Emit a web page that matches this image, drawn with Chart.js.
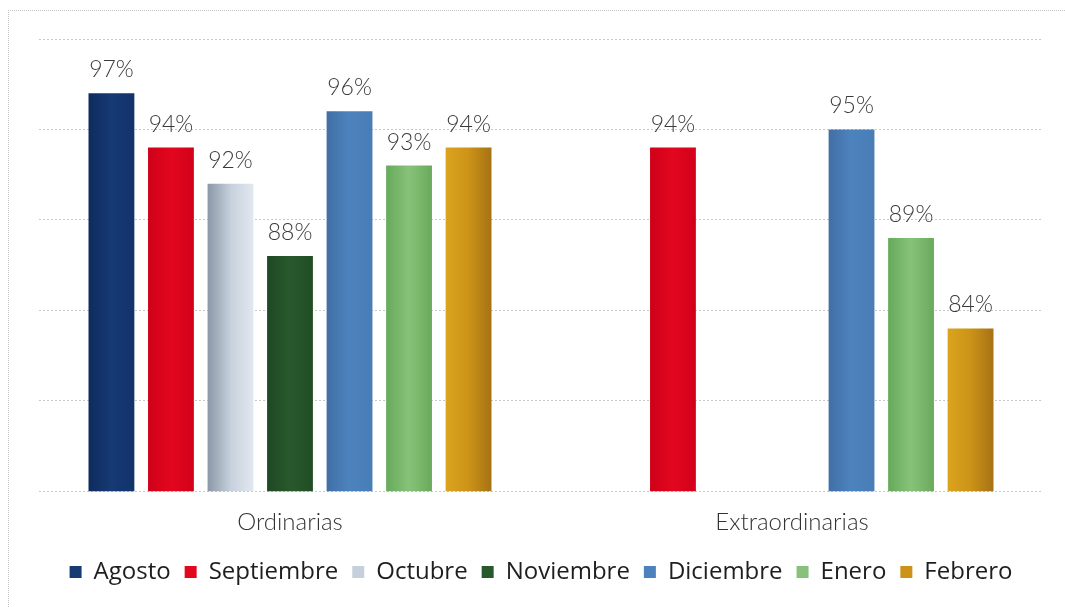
<!DOCTYPE html>
<html>
<head>
<meta charset="utf-8">
<script src="https://cdn.jsdelivr.net/npm/chart.js@4.4.1/dist/chart.umd.min.js"></script>
<style>
  html, body { margin: 0; padding: 0; background: #fff; }
  #wrap { position: relative; width: 1065px; height: 607px; background: #fff; overflow: hidden; }
  #frame { position: absolute; left: 8px; top: 10px; width: 1100px; height: 700px;
           border-top: 1px dotted #c4c4c4; border-left: 1px dotted #c4c4c4; }
  #c { position: absolute; left: 0; top: 0; }
</style>
</head>
<body>
<div id="wrap">
  <div id="frame"></div>
  <canvas id="c" width="1065" height="607"></canvas>
</div>
<script>
// categories and series (percent)
const categories = ['Ordinarias', 'Extraordinarias'];
const months = ['Agosto', 'Septiembre', 'Octubre', 'Noviembre', 'Diciembre', 'Enero', 'Febrero'];

const agosto     = [97, null];
const septiembre = [94, 94];
const octubre    = [92, null];
const noviembre  = [88, null];
const diciembre  = [96, 95];
const enero      = [93, 89];
const febrero    = [94, 84];

const yMin = 75, yMax = 100, yStep = 5;

// left / mid / right shades for each month
const shades = [
  ['#0f2b5e', '#163a74', '#12326a'],
  ['#cf0019', '#e2071f', '#d3001a'],
  ['#8b97a7', '#c6d0dc', '#e2e8f0'],
  ['#1f4823', '#28592c', '#224d26'],
  ['#416fa6', '#4d83bd', '#487db6'],
  ['#66aa5a', '#88c27a', '#6aaa5c'],
  ['#dba41d', '#cc9318', '#a67214']
];

const allSeries = [agosto, septiembre, octubre, noviembre, diciembre, enero, febrero];

const datasets = months.map((m, i) => ({
  label: m,
  data: allSeries[i],
  backgroundColor: shades[i][1],
  borderWidth: 0,
  barPercentage: 0.77,
  categoryPercentage: 0.83
}));

// horizontal shading on every bar, using the bar's own geometry
const barShade = {
  id: 'barShade',
  beforeDatasetsDraw(chart) {
    const ctx = chart.ctx;
    chart.data.datasets.forEach((ds, i) => {
      const meta = chart.getDatasetMeta(i);
      meta.data.forEach(el => {
        if (!isFinite(el.x) || !isFinite(el.width)) return;
        const g = ctx.createLinearGradient(el.x - el.width / 2, 0, el.x + el.width / 2, 0);
        g.addColorStop(0, shades[i][0]);
        g.addColorStop(0.5, shades[i][1]);
        g.addColorStop(1, shades[i][2]);
        el.options = Object.assign({}, el.options, { backgroundColor: g });
      });
    });
  }
};

// value labels above bars
const valueLabels = {
  id: 'valueLabels',
  afterDatasetsDraw(chart) {
    const ctx = chart.ctx;
    ctx.save();
    ctx.font = '300 23px Lato, "Open Sans", sans-serif';
    ctx.fillStyle = '#3a3a3a';
    ctx.textAlign = 'center';
    ctx.textBaseline = 'alphabetic';
    chart.data.datasets.forEach((ds, i) => {
      const meta = chart.getDatasetMeta(i);
      meta.data.forEach((el, j) => {
        const v = ds.data[j];
        if (v == null) return;
        ctx.fillText(v + '%', el.x, el.y - 16);
      });
    });
    ctx.restore();
  }
};

new Chart(document.getElementById('c'), {
  type: 'bar',
  data: { labels: categories, datasets: datasets },
  options: {
    responsive: false,
    animation: false,
    devicePixelRatio: 1,
    layout: { padding: { top: 39, left: 39, right: 22, bottom: 13 } },
    plugins: {
      tooltip: { enabled: false },
      legend: {
        position: 'bottom',
        labels: {
          boxWidth: 12,
          boxHeight: 12,
          padding: 14,
          color: '#1e1e1e',
          font: { family: '"Open Sans", sans-serif', size: 24 }
        }
      }
    },
    scales: {
      x: {
        grid: { display: false },
        border: { display: false },
        ticks: {
          padding: 9,
          color: '#333',
          font: { family: 'Lato, "Open Sans", sans-serif', size: 24, weight: '300' }
        }
      },
      y: {
        min: yMin,
        max: yMax,
        grid: { color: '#c8c8c8', lineWidth: 1, drawTicks: false },
        border: { display: false, dash: [2, 2] },
        ticks: { display: false, stepSize: yStep }
      }
    }
  },
  plugins: [barShade, valueLabels]
});
</script>
</body>
</html>
